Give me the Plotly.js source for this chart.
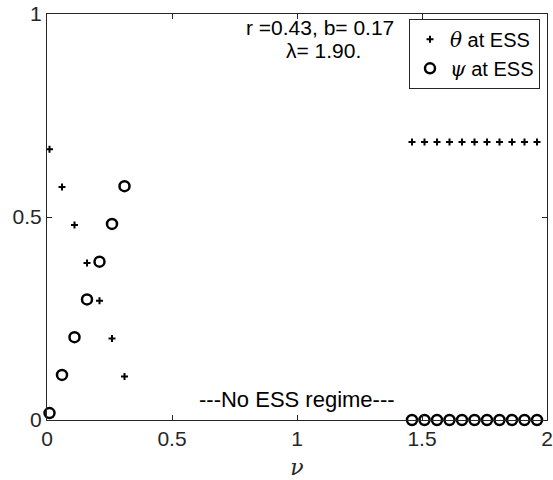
<!DOCTYPE html>
<html>
<head>
<meta charset="utf-8">
<script src="https://cdn.plot.ly/plotly-3.0.1.min.js"></script>
<style>html,body{margin:0;padding:0;background:#fff;}</style>
</head>
<body>
<div id="chart" style="width:553px;height:480px;"></div>
<script>
// nu values
var nuLeft = [0.01, 0.06, 0.11, 0.16, 0.21, 0.26, 0.31];
var nuRight = [1.46, 1.51, 1.56, 1.61, 1.66, 1.71, 1.76, 1.81, 1.86, 1.91, 1.96];
// theta at ESS
var thetaLeft = [0.667, 0.574, 0.480, 0.387, 0.294, 0.201, 0.107];
var thetaRight = [0.685, 0.685, 0.685, 0.685, 0.685, 0.685, 0.685, 0.685, 0.685, 0.685, 0.685];
// psi at ESS
var psiLeft = [0.017, 0.111, 0.204, 0.297, 0.390, 0.483, 0.576];
var psiRight = [0, 0, 0, 0, 0, 0, 0, 0, 0, 0, 0];
// ticks
var xTicks = [0, 0.5, 1, 1.5, 2];
var xTickText = ['0', '0.5', '1', '1.5', '2'];
var yTicks = [0, 0.5, 1];
var yTickText = ['0', '0.5', '1'];

var FONT = 'Liberation Sans, Arial, Helvetica, sans-serif';
var INK = '#262626';

var traces = [
  {
    x: nuLeft.concat(nuRight),
    y: thetaLeft.concat(thetaRight),
    mode: 'markers',
    type: 'scatter',
    name: '<span style="font-family:DejaVu Serif"><i>θ</i></span> at ESS',
    cliponaxis: false,
    marker: {symbol: 'cross-thin', size: 5, color: '#000', line: {color: '#000', width: 2}}
  },
  {
    x: nuLeft.concat(nuRight),
    y: psiLeft.concat(psiRight),
    mode: 'markers',
    type: 'scatter',
    name: '<span style="font-family:DejaVu Serif"><i>ψ</i></span> at ESS',
    cliponaxis: false,
    marker: {symbol: 'circle-open', size: 10, color: '#000', line: {color: '#000', width: 2.5}}
  }
];

var layout = {
  width: 553,
  height: 480,
  margin: {l: 47, r: 6, t: 14, b: 60},
  paper_bgcolor: '#fff',
  plot_bgcolor: '#fff',
  font: {family: FONT, size: 21, color: INK},
  showlegend: true,
  legend: {
    x: 0.986, y: 0.988, xanchor: 'right', yanchor: 'top',
    bordercolor: INK, borderwidth: 1, bgcolor: '#fff',
    font: {family: FONT, size: 20, color: '#000'},
    itemwidth: 30, tracegroupgap: 0
  },
  xaxis: {
    range: [0, 2],
    tickmode: 'array', tickvals: xTicks, ticktext: xTickText,
    ticks: 'inside', ticklen: 5, tickcolor: INK, tickwidth: 1,
    showline: true, linecolor: INK, linewidth: 1, mirror: 'ticks',
    showgrid: false, zeroline: false,
    tickfont: {family: FONT, size: 21, color: INK},
    title: {text: '<i>ν</i>', font: {family: 'DejaVu Serif, serif', size: 22, color: INK}, standoff: 14}
  },
  yaxis: {
    range: [0, 1],
    tickmode: 'array', tickvals: yTicks, ticktext: yTickText,
    ticks: 'inside', ticklen: 5, tickcolor: INK, tickwidth: 1,
    showline: true, linecolor: INK, linewidth: 1, mirror: 'ticks',
    showgrid: false, zeroline: false,
    tickfont: {family: FONT, size: 21, color: INK}
  },
  annotations: [
    {xref: 'paper', yref: 'paper', x: 0.546, y: 0.966, xanchor: 'center', yanchor: 'middle',
     text: 'r =0.43, b= 0.17', showarrow: false, font: {family: FONT, size: 21, color: '#000'}},
    {xref: 'paper', yref: 'paper', x: 0.552, y: 0.910, xanchor: 'center', yanchor: 'middle',
     text: 'λ= 1.90.', showarrow: false, font: {family: FONT, size: 21, color: '#000'}},
    {xref: 'x', yref: 'y', x: 1, y: 0.05, xanchor: 'center', yanchor: 'middle',
     text: '---No ESS regime---', showarrow: false, font: {family: FONT, size: 22, color: '#000'}}
  ]
};

Plotly.newPlot('chart', traces, layout, {displayModeBar: false, staticPlot: true});
</script>
</body>
</html>
